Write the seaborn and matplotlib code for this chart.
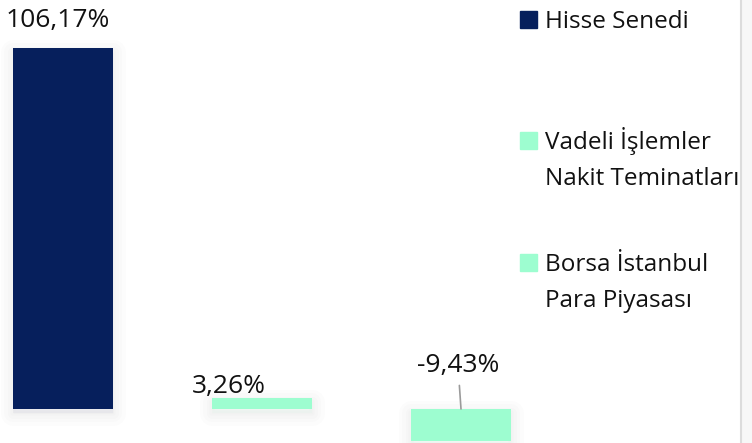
import matplotlib
matplotlib.use("Agg")
import matplotlib.pyplot as plt
import matplotlib.patheffects as pe
from matplotlib.patches import Rectangle
import seaborn as sns

categories = ["Hisse Senedi", "Vadeli İşlemler Nakit Teminatları", "Borsa İstanbul Para Piyasası"]
values = [106.17, 3.26, -9.43]
legend_lines = [["Hisse Senedi"], ["Vadeli İşlemler", "Nakit Teminatları"], ["Borsa İstanbul", "Para Piyasası"]]
colors = ["#061f5c", "#9dfdd0", "#9dfdd0"]

sns.set_style("white")
plt.rcParams["font.family"] = ["Open Sans", "DejaVu Sans"]

W, H = 752, 443
fig = plt.figure(figsize=(W / 100, H / 100), dpi=100)
ax = fig.add_axes([0, 0, 1, 1])

sns.barplot(x=categories, y=values, hue=categories, palette=colors, width=0.5,
            saturation=1, legend=False, linewidth=0, edgecolor="none", ax=ax)

ppu = 199.0
ax.set_xlim(-63 / ppu, -63 / ppu + W / ppu)
yscale = 361 / 106.17
ax.set_ylim(-(H - 409) / yscale, 409 / yscale)
ax.axis("off")

glow = [pe.Stroke(linewidth=w, foreground="black", alpha=0.012, joinstyle="round", offset=(0, -3))
        for w in (18, 13, 8, 4)] + [pe.Normal()]
for p in ax.patches:
    p.set_linewidth(0)
    p.set_path_effects(glow)

def fmt(v):
    return f"{v:.2f}".replace(".", ",") + "%"

px = 0.72  # points per pixel
ax.annotate(fmt(values[0]), xy=(0, values[0]), xytext=(-5 * px, 21 * px), textcoords="offset points",
            ha="center", va="baseline", fontsize=19, color="#111111")
ax.annotate(fmt(values[1]), xy=(1, values[1]), xytext=(-33 * px, 5 * px), textcoords="offset points",
            ha="center", va="baseline", fontsize=19, color="#111111")
ax.annotate(fmt(values[2]), xy=(2, 0), xytext=(-3 * px, 37 * px), textcoords="offset points",
            ha="center", va="baseline", fontsize=19, color="#111111",
            arrowprops=dict(arrowstyle="-", color="#9a9a9a", lw=1.2, shrinkA=3, shrinkB=0))

tops = [28, 149, 271]
for i, lines in enumerate(legend_lines):
    base = tops[i]
    fig.patches.append(Rectangle((520 / W, 1 - base / H), 17 / W, 17 / H,
                                 transform=fig.transFigure, color=colors[i], zorder=5))
    for j, line in enumerate(lines):
        fig.text(545 / W, 1 - (base + 36 * j) / H, line, ha="left", va="baseline",
                 fontsize=17.5, color="#111111")

fig.patches.append(Rectangle((741 / W, 0), 11 / W, 1, transform=fig.transFigure,
                             color="#f7f7f7", zorder=0))
fig.lines.append(plt.Line2D([740.5 / W, 740.5 / W], [0, 1], transform=fig.transFigure,
                            color="#dcdcdc", lw=1.5, zorder=6))

fig.savefig("out.png", dpi=100)
